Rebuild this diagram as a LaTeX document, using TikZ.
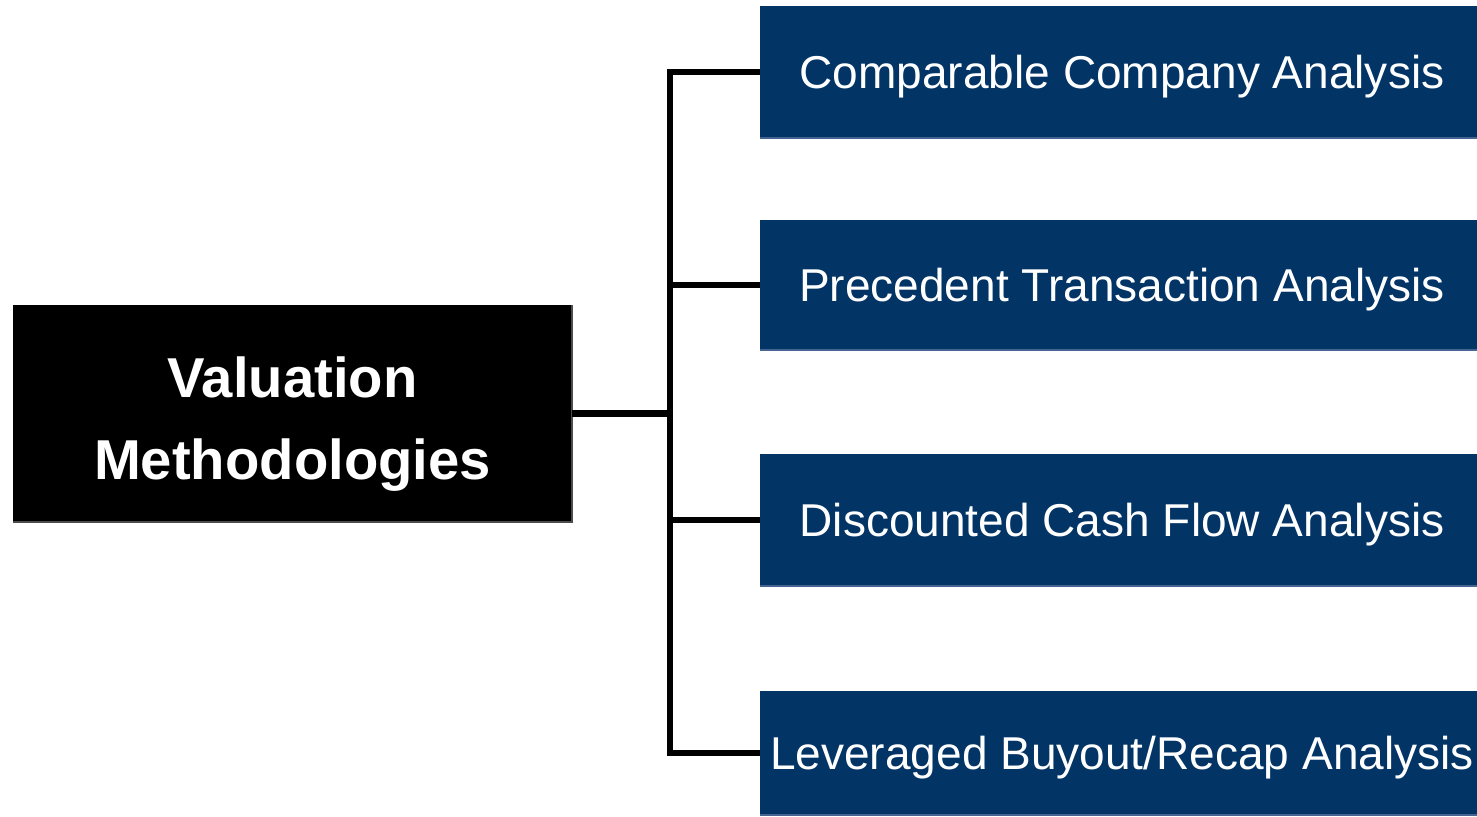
\documentclass[tikz,border=0pt]{standalone}
\usepackage{fontspec}
\setmainfont{Liberation Sans}
\definecolor{navy}{RGB}{2,52,102}
\definecolor{navyedge}{RGB}{70,100,145}

\tikzset{
  rootbox/.style={fill=black, minimum width=5.59cm, minimum height=2.17cm,
    text=white, font=\fontsize{16}{23.3}\selectfont\bfseries, align=center, inner sep=0pt, outer sep=0pt},
  methodbox/.style={fill=navy, minimum width=7.17cm, text=white, font=\fontsize{13.1}{15}\selectfont,
    text height=9.4pt, text depth=0pt, inner sep=0pt, outer sep=0pt},
  link/.style={line width=1.9pt}
}

\begin{document}
\begin{tikzpicture}
		\useasboundingbox (0,0) rectangle (14.77,-8.17);
		\node[rootbox] (root) at (2.925,-4.135) {\rule{0pt}{17.6pt}Valuation\\Methodologies};
		\draw[black!70, line width=0.6pt] (root.north east) -- (root.south east) -- (root.south west);

		\foreach \name/\y/\h/\txt in {m1/-0.72/1.32/{Comparable Company Analysis},
			m2/-2.85/1.30/{Precedent Transaction Analysis},
			m3/-5.20/1.32/{Discounted Cash Flow Analysis},
			m4/-7.53/1.24/{Leveraged Buyout/Recap Analysis}} {
			\node[methodbox, minimum height=\h cm] (\name) at (11.185,\y) {\hspace{0.07cm}\txt};
			\draw[navyedge, line width=0.6pt] (\name.south west) -- (\name.south east);
		}

		\coordinate (bus) at (6.70,-4.135);
		\draw[link] (root.east) -- (bus);
		\draw[link] (m1.west) -| (bus) |- (m4.west);
		\draw[link] (m2.west) -- (m2.west -| bus);
		\draw[link] (m3.west) -- (m3.west -| bus);
	\end{tikzpicture}
\end{document}
